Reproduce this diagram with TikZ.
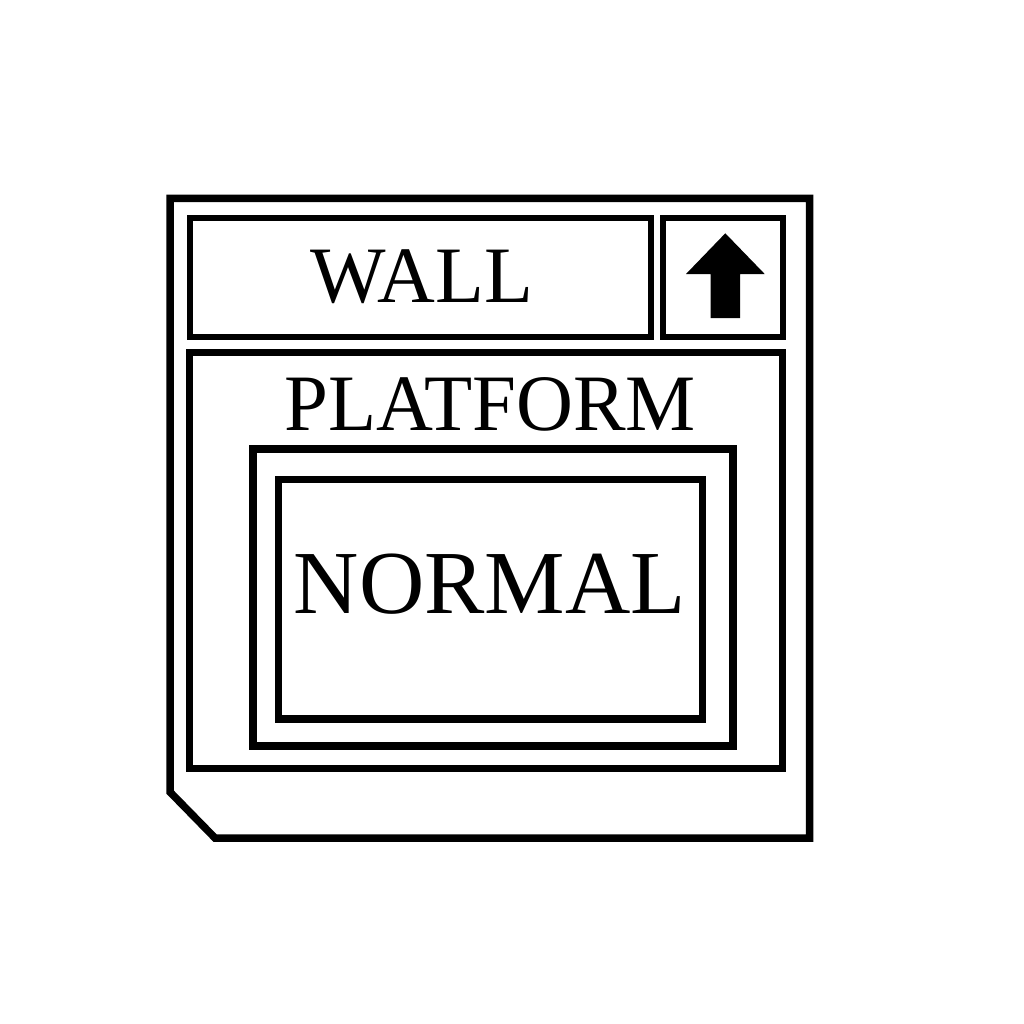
\documentclass[tikz,border=0pt]{standalone}
\usepackage{fontspec}
\setmainfont{Liberation Serif}
\begin{document}
\begin{tikzpicture}[x=1pt,y=-1pt,
  frame/.style={draw=black,line width=6.5pt,line join=miter},
  label/.style={inner sep=0pt,anchor=base,text=black}]
\useasboundingbox[fill=white] (0,0) rectangle (1024,1024);
% outer casing with chamfered lower-left corner
\draw[frame,line width=7.5pt] (170,198.5) -- (809.5,198.5) -- (809.5,838) -- (215,838) -- (170,792) -- cycle;
% wall box and arrow box
\draw[frame,line width=6pt] (189.5,217.7) rectangle (650.5,337);
\draw[frame,line width=6pt] (663.3,217.7) rectangle (782.7,337);
\fill[black] (725.3,233.3) -- (764.7,274) -- (740,274) -- (740,318) -- (710.7,318) -- (710.7,274) -- (686,274) -- cycle;
% platform box
\draw[frame] (189.5,352.3) rectangle (782.7,768.3);
% nested frames
\draw[frame,line width=8pt] (252.7,448.7) rectangle (733,746);
\draw[frame,line width=7.5pt] (278.7,479.3) rectangle (702.3,719);
% labels
\node[label,font=\fontsize{80}{80}\selectfont] (wall) at (422,302.7) {WALL};
\node[label,font=\fontsize{80}{80}\selectfont,xscale=0.985] (platform) at (490,430) {PLATFORM};
\node[label,font=\fontsize{90}{90}\selectfont,xscale=1.005] (normal) at (489.7,613.3) {NORMAL};
\end{tikzpicture}
\end{document}
